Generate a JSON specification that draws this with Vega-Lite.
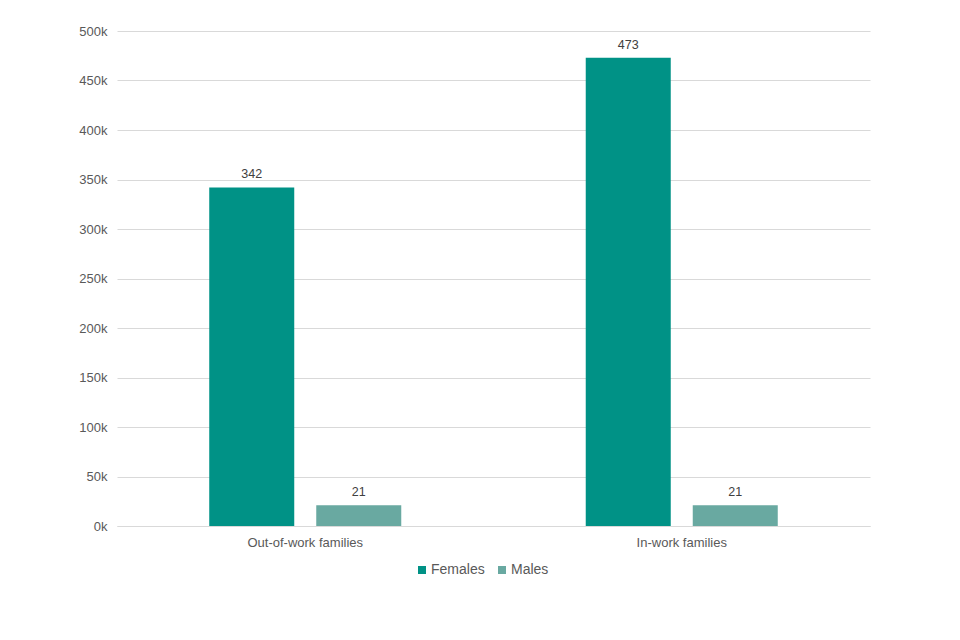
{
  "$schema": "https://vega.github.io/schema/vega-lite/v6.json",
  "autosize": {"type": "none"},
  "width": 753,
  "height": 495,
  "padding": {"left": 117, "top": 31, "right": 90, "bottom": 114},
  "background": "white",
  "config": {
    "view": {"stroke": null},
    "font": "Liberation Sans"
  },
  "data": {
    "values": [
      {"family": "Out-of-work families", "sex": "Females", "value": 342},
      {"family": "Out-of-work families", "sex": "Males", "value": 21},
      {"family": "In-work families", "sex": "Females", "value": 473},
      {"family": "In-work families", "sex": "Males", "value": 21}
    ]
  },
  "encoding": {
    "x": {
      "field": "family",
      "type": "nominal",
      "sort": ["Out-of-work families", "In-work families"],
      "scale": {"paddingInner": 0, "paddingOuter": 0},
      "axis": {
        "title": null,
        "labelAngle": 0,
        "ticks": false,
        "labelPadding": 10,
        "labelFontSize": 13,
        "labelColor": "#595959",
        "domainColor": "#d9d9d9",
        "grid": false
      }
    },
    "xOffset": {
      "field": "sex",
      "type": "nominal",
      "sort": ["Females", "Males"],
      "scale": {"paddingInner": 0.2056, "paddingOuter": 0.862}
    },
    "y": {
      "field": "value",
      "type": "quantitative",
      "scale": {"domain": [0, 500]},
      "axis": {
        "title": null,
        "values": [0, 50, 100, 150, 200, 250, 300, 350, 400, 450, 500],
        "labelExpr": "datum.value + 'k'",
        "ticks": false,
        "domain": false,
        "labelPadding": 10,
        "labelFontSize": 13,
        "labelColor": "#595959",
        "gridColor": "#d9d9d9"
      }
    }
  },
  "layer": [
    {
      "mark": {"type": "bar"},
      "encoding": {
        "color": {
          "field": "sex",
          "type": "nominal",
          "sort": ["Females", "Males"],
          "scale": {"domain": ["Females", "Males"], "range": ["#009286", "#69a9a1"]},
          "legend": {
            "title": null,
            "orient": "none",
            "direction": "horizontal",
            "legendX": 298,
            "legendY": 532,
            "symbolType": "square",
            "symbolSize": 64,
            "symbolStrokeWidth": 0,
            "labelFontSize": 14,
            "labelColor": "#595959",
            "labelOffset": 2,
            "columnPadding": 10
          }
        }
      }
    },
    {
      "mark": {"type": "text", "baseline": "bottom", "dy": -6, "fontSize": 12.5, "color": "#404040"},
      "encoding": {
        "text": {"field": "value", "type": "quantitative"}
      }
    }
  ]
}
